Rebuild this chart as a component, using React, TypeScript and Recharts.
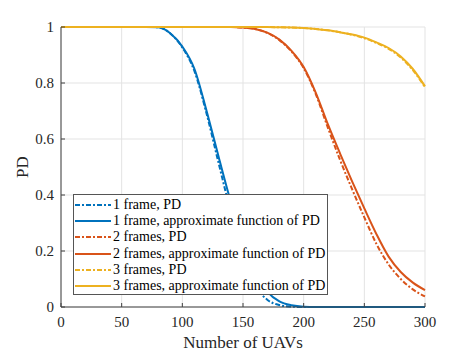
import React from "react";
import { LineChart, Line, XAxis, YAxis, CartesianGrid, Legend } from "recharts";

// number of UAVs (x), every 10
const uavs = [
  0, 10, 20, 30, 40, 50, 60, 70, 80, 90, 100, 110, 120, 130, 140, 150, 160, 170, 180, 190, 200,
  210, 220, 230, 240, 250, 260, 270, 280, 290, 300,
];

// 1 frame
const pd1 = [
  1, 1, 1, 1, 1, 1, 1, 1, 0.999, 0.977, 0.927, 0.842, 0.69, 0.512, 0.338, 0.188, 0.078, 0.026,
  0.007, 0.001, 0, 0, 0, 0, 0, 0, 0, 0, 0, 0, 0,
];
const approx1 = [
  1, 1, 1, 1, 1, 1, 1, 1, 0.999, 0.978, 0.93, 0.85, 0.7, 0.535, 0.375, 0.235, 0.125, 0.055, 0.02,
  0.006, 0.001, 0, 0, 0, 0, 0, 0, 0, 0, 0, 0,
];

// 2 frames
const pd2 = [
  1, 1, 1, 1, 1, 1, 1, 1, 1, 1, 1, 1, 1, 1, 1, 0.998, 0.993, 0.979, 0.953, 0.912, 0.853, 0.76,
  0.64, 0.525, 0.42, 0.32, 0.225, 0.152, 0.1, 0.063, 0.038,
];
const approx2 = [
  1, 1, 1, 1, 1, 1, 1, 1, 1, 1, 1, 1, 1, 1, 1, 0.998, 0.993, 0.98, 0.955, 0.915, 0.857, 0.765,
  0.652, 0.548, 0.448, 0.352, 0.26, 0.18, 0.125, 0.087, 0.06,
];

// 3 frames
const pd3 = [
  1, 1, 1, 1, 1, 1, 1, 1, 1, 1, 1, 1, 1, 1, 1, 1, 1, 1, 0.999, 0.998, 0.996, 0.993, 0.988, 0.981,
  0.972, 0.96, 0.943, 0.922, 0.891, 0.846, 0.785,
];
const approx3 = [
  1, 1, 1, 1, 1, 1, 1, 1, 1, 1, 1, 1, 1, 1, 1, 1, 1, 1, 0.999, 0.998, 0.996, 0.993, 0.988, 0.981,
  0.973, 0.962, 0.945, 0.925, 0.895, 0.85, 0.788,
];

const xTicks = [0, 50, 100, 150, 200, 250, 300];
const yTicks = [0, 0.2, 0.4, 0.6, 0.8, 1];

const BLUE = "#0072BD";
const RED = "#D95319";
const YELLOW = "#EDB120";
const DASH = "5 2 2 2";
const FONT = "'Liberation Serif', 'Times New Roman', Times, serif";
const AXIS = "#404040";
const TEXT = "#262626";

const series = [
  { key: "pd1", name: "1 frame, PD", color: BLUE, dash: DASH },
  { key: "approx1", name: "1 frame, approximate function of PD", color: BLUE, dash: undefined },
  { key: "pd2", name: "2 frames, PD", color: RED, dash: DASH },
  { key: "approx2", name: "2 frames, approximate function of PD", color: RED, dash: undefined },
  { key: "pd3", name: "3 frames, PD", color: YELLOW, dash: DASH },
  { key: "approx3", name: "3 frames, approximate function of PD", color: YELLOW, dash: undefined },
];

const data = uavs.map((u, i) => ({
  uav: u,
  pd1: pd1[i],
  approx1: approx1[i],
  pd2: pd2[i],
  approx2: approx2[i],
  pd3: pd3[i],
  approx3: approx3[i],
}));

const textStyle = { fontFamily: FONT, fill: TEXT };

// legend box drawn like matlab's
const LegendBox = () => (
  <div
    style={{
      boxSizing: "border-box",
      width: 255,
      height: 101,
      border: "1px solid #555",
      background: "#fff",
      padding: "2px 0",
      fontFamily: FONT,
      fontSize: 14,
      color: "#000",
    }}
  >
    {series.map((s) => (
      <div key={s.key} style={{ height: 16.2, display: "flex", alignItems: "center", whiteSpace: "nowrap" }}>
        <svg width={38} height={8} style={{ marginLeft: 1, flexShrink: 0 }}>
          <line x1={0} y1={4} x2={36} y2={4} stroke={s.color} strokeWidth={2} strokeDasharray={s.dash} />
        </svg>
        <span style={{ lineHeight: "16px" }}>{s.name}</span>
      </div>
    ))}
  </div>
);

const XTick = (props: any) => (
  <text x={props.x} y={props.y} dy="0.71em" textAnchor="middle" fontSize={15} style={textStyle}>
    {props.payload.value}
  </text>
);

const YTick = (props: any) => (
  <text x={props.x} y={props.y} dy="0.36em" textAnchor="end" fontSize={15} style={textStyle}>
    {props.payload.value}
  </text>
);

const XLabel = (props: any) => {
  const { viewBox } = props;
  return (
    <text
      x={viewBox.x + viewBox.width / 2}
      y={viewBox.y + viewBox.height - 8}
      textAnchor="middle"
      fontSize={17}
      style={textStyle}
    >
      Number of UAVs
    </text>
  );
};

const PdLabel = (props: any) => {
  const { viewBox } = props;
  const cx = viewBox.x + 22;
  const cy = viewBox.y + viewBox.height / 2;
  return (
    <text
      x={cx}
      y={cy}
      transform={`rotate(-90 ${cx} ${cy})`}
      textAnchor="middle"
      dominantBaseline="central"
      fontSize={17}
      style={textStyle}
    >
      PD
    </text>
  );
};

export default function App() {
  return (
    <div
      style={{ position: "absolute", left: 0, top: 0, width: 469, height: 356, background: "#fff", fontFamily: FONT }}
    >
      <LineChart width={469} height={356} data={data} margin={{ top: 27, right: 44, bottom: 0, left: 0 }}>
        <CartesianGrid stroke="#e3e3e3" />
        <XAxis
          dataKey="uav"
          type="number"
          domain={[0, 300]}
          ticks={xTicks}
          interval={0}
          height={49}
          stroke={AXIS}
          tickSize={-4}
          tickMargin={13}
          tick={<XTick />}
          label={<XLabel />}
        />
        <XAxis
          xAxisId="top"
          orientation="top"
          dataKey="uav"
          type="number"
          domain={[0, 300]}
          ticks={xTicks}
          interval={0}
          height={0}
          stroke={AXIS}
          tickSize={-4}
          tick={false}
        />
        <YAxis
          type="number"
          domain={[0, 1]}
          ticks={yTicks}
          interval={0}
          width={61}
          stroke={AXIS}
          tickSize={-4}
          tickMargin={11}
          tick={<YTick />}
          label={<PdLabel />}
        />
        <YAxis
          yAxisId="right"
          orientation="right"
          type="number"
          domain={[0, 1]}
          ticks={yTicks}
          interval={0}
          width={0}
          stroke={AXIS}
          tickSize={-4}
          tick={false}
        />
        {series.map((s) => (
          <Line
            key={s.key}
            type="monotone"
            dataKey={s.key}
            name={s.name}
            stroke={s.color}
            strokeWidth={2}
            strokeDasharray={s.dash}
            dot={false}
            activeDot={false}
            isAnimationActive={false}
          />
        ))}
        <Legend
          layout="vertical"
          align="center"
          verticalAlign="middle"
          wrapperStyle={{ left: 73, top: 194, width: 255, height: 101 }}
          content={() => <LegendBox />}
        />
      </LineChart>
    </div>
  );
}
